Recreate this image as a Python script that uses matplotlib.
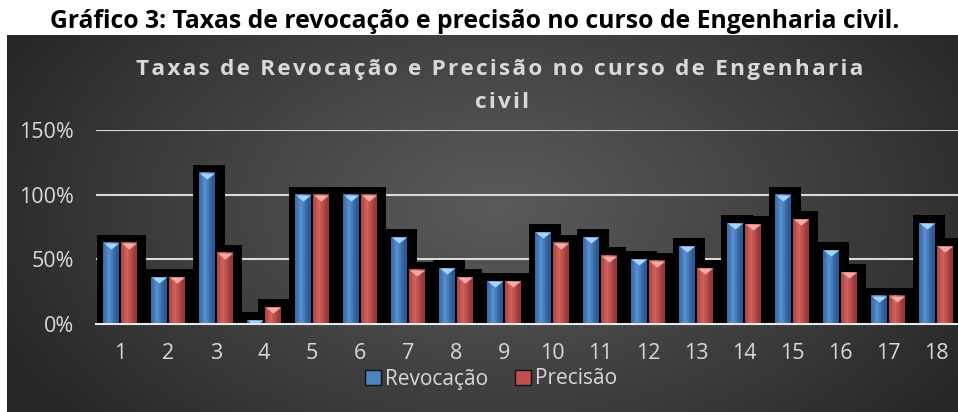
import matplotlib
matplotlib.use("Agg")
import matplotlib.pyplot as plt
import matplotlib.patheffects as pe
import numpy as np
from matplotlib import transforms
from matplotlib.patches import Patch

CATEGORIES = ["1", "2", "3", "4", "5", "6", "7", "8", "9",
              "10", "11", "12", "13", "14", "15", "16", "17", "18"]
REVOCACAO = [63, 36, 117, 3, 100, 100, 67, 43, 33, 71, 67, 50, 60, 78, 100, 57, 22, 78]
PRECISAO = [63, 36, 55, 13, 100, 100, 42, 36, 33, 63, 53, 49, 43, 77, 81, 40, 22, 60]
SERIES_NAMES = ["Revocação", "Precisão"]
Y_TICKS = [0, 50, 100, 150]
Y_LABELS = ["0%", "50%", "100%", "150%"]

FIG_TITLE = "Gráfico 3: Taxas de revocação e precisão no curso de Engenharia civil."
CHART_TITLE = ["Taxas de Revocação e Precisão no curso de Engenharia", "civil"]

TEXT_COLOR = "#d9d9d9"
FONT = ["Open Sans", "DejaVu Sans"]

plt.rcParams["font.family"] = FONT

W, H = 958, 412
fig = plt.figure(figsize=(W / 100, H / 100), dpi=100)
fig.patch.set_facecolor("white")

# dark radial background of the chart box
bg = fig.add_axes([7 / W, 0, (W - 7) / W, (H - 35) / H])
bg.axis("off")
yy, xx = np.mgrid[0:H - 35, 0:W - 7]
t = np.sqrt(((xx - 490) / 560) ** 2 + ((yy - 170) / 340) ** 2)
t = np.clip(t, 0, 1) ** 1.1
c_in = np.array([0x5a, 0x5a, 0x5a]) / 255
c_out = np.array([0x26, 0x26, 0x26]) / 255
bg.imshow(c_in + (c_out - c_in) * t[..., None], aspect="auto", extent=(0, 1, 0, 1))

ax = fig.add_axes([96 / W, 88 / H, 864 / W, 194 / H])
ax.set_facecolor("none")
for s in ax.spines.values():
    s.set_visible(False)

x = np.arange(len(CATEGORIES))
width = 0.33
shift = 0.18

# black glow behind every bar
for vals, dx in ((REVOCACAO, -shift), (PRECISAO, shift)):
    ax.bar(x + dx, vals, width, color="black", zorder=1,
           path_effects=[pe.Stroke(linewidth=11.5, foreground="black", offset=(1.2, 0)),
                         pe.Normal()])


def gradient(edge, mid):
    edge = np.array(matplotlib.colors.to_rgb(edge))
    mid = np.array(matplotlib.colors.to_rgb(mid))
    s = np.linspace(-1, 1, 40)
    k = np.clip(1 - np.abs(s + 0.25) / 1.0, 0, 1)[:, None]
    return (edge + (mid - edge) * k)[None, :, :]


styles = [
    (REVOCACAO, -shift, "#4f81bd", gradient("#2c5a94", "#5b8fd2"), "#a6d3fa"),
    (PRECISAO, shift, "#c0504d", gradient("#993836", "#d36461"), "#f5aaa7"),
]

tri = [(-1, 0.4), (1, 0.4), (0, -0.4)]
tri_tr = transforms.offset_copy(ax.transData, fig=fig, y=-2.2, units="points")

for vals, dx, base, grad, light in styles:
    bars = ax.bar(x + dx, vals, width, color=base, zorder=3)
    for b in bars:
        ax.imshow(grad, aspect="auto", zorder=3.1,
                  extent=(b.get_x(), b.get_x() + b.get_width(), 0, b.get_height()))
    ax.plot(x + dx, vals, ls="none", marker=tri, ms=11, mfc=light, mec="none",
            transform=tri_tr, zorder=4)

ax.set_xlim(-0.5, len(CATEGORIES) - 0.5)
ax.set_ylim(0, 150)
ax.set_xticks(x)
ax.set_xticklabels(CATEGORIES)
ax.set_yticks(Y_TICKS)
ax.set_yticklabels(Y_LABELS)
ax.yaxis.grid(True, color=TEXT_COLOR, lw=1.5)
ax.set_axisbelow(True)
ax.axhline(0, color="#e8e8e8", lw=1.5, zorder=5, clip_on=False)
ax.tick_params(length=0, colors=TEXT_COLOR, labelsize=15.5)
ax.tick_params(axis="x", pad=14)
ax.tick_params(axis="y", pad=16)

handles = [Patch(facecolor="#4f81bd", edgecolor="#111111"),
           Patch(facecolor="#c0504d", edgecolor="#111111")]
fig.legend(handles, SERIES_NAMES, loc="center", bbox_to_anchor=(491 / W, 1 - 379 / H),
           ncol=2, frameon=False, fontsize=15, labelcolor=TEXT_COLOR,
           handlelength=0.75, handleheight=0.75, handletextpad=0.2, columnspacing=1.3)

fig.text(475 / W, 1 - 22 / H, FIG_TITLE, ha="center", va="center",
         fontsize=17.8, fontweight="bold", color="black")

for line, (cx, cy) in zip(CHART_TITLE, [(500, 70), (502, 103)]):
    spaced = "\u200a".join(line)
    fig.text(cx / W, 1 - cy / H, spaced, ha="center", va="center",
             fontsize=16.2, fontweight="bold", color=TEXT_COLOR)

fig.savefig("out.png", dpi=100)
